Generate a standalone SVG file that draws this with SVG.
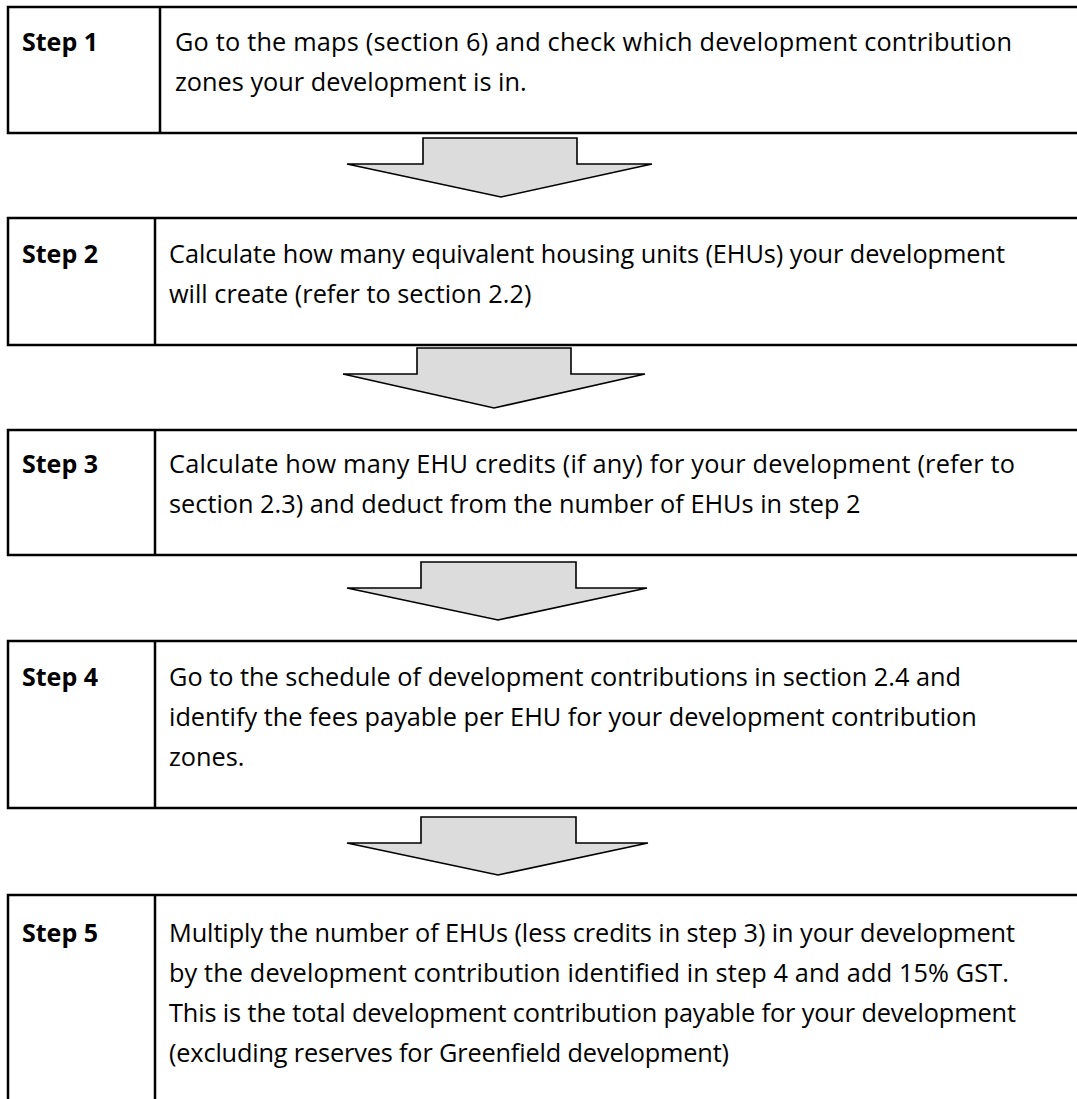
<svg xmlns="http://www.w3.org/2000/svg" width="1077" height="1099" viewBox="0 0 1077 1099">
<style>
.box{fill:#ffffff;stroke:#000000;stroke-width:2.5}
.div{stroke:#000000;stroke-width:2.5}
.lbl{font-family:"Open Sans","Noto Sans","Liberation Sans",sans-serif;font-size:25px;font-weight:bold;fill:#000000}
.txt{font-family:"Open Sans","Noto Sans","Liberation Sans",sans-serif;font-size:25.3px;fill:#000000}
.arr{fill:#dcdcdc;stroke:#000000;stroke-width:1.6;stroke-linejoin:miter}
</style>
<rect x="0" y="0" width="1077" height="1099" fill="#ffffff"/>
<g id="step1">
<rect class="box" x="8" y="7" width="1080" height="126"/>
<line class="div" x1="160" y1="7" x2="160" y2="133"/>
<text class="lbl" x="22" y="51">Step 1</text>
<text class="txt" x="175" y="51" textLength="837">Go to the maps (section 6) and check which development contribution</text>
<text class="txt" x="175" y="91">zones your development is in.</text>
</g>
<g id="step2">
<rect class="box" x="8" y="218" width="1080" height="127"/>
<line class="div" x1="155" y1="218" x2="155" y2="345"/>
<text class="lbl" x="22" y="263">Step 2</text>
<text class="txt" x="169" y="263" textLength="836">Calculate how many equivalent housing units (EHUs) your development</text>
<text class="txt" x="169" y="303">will create (refer to section 2.2)</text>
</g>
<g id="step3">
<rect class="box" x="8" y="430" width="1080" height="125"/>
<line class="div" x1="155" y1="430" x2="155" y2="555"/>
<text class="lbl" x="22" y="473">Step 3</text>
<text class="txt" x="169" y="473" textLength="846">Calculate how many EHU credits (if any) for your development (refer to</text>
<text class="txt" x="169" y="513">section 2.3) and deduct from the number of EHUs in step 2</text>
</g>
<g id="step4">
<rect class="box" x="8" y="641" width="1080" height="167"/>
<line class="div" x1="155" y1="641" x2="155" y2="808"/>
<text class="lbl" x="22" y="686">Step 4</text>
<text class="txt" x="169" y="686">Go to the schedule of development contributions in section 2.4 and</text>
<text class="txt" x="169" y="726">identify the fees payable per EHU for your development contribution</text>
<text class="txt" x="169" y="766">zones.</text>
</g>
<g id="step5">
<rect class="box" x="8" y="895" width="1080" height="215"/>
<line class="div" x1="155" y1="895" x2="155" y2="1110"/>
<text class="lbl" x="22" y="942">Step 5</text>
<text class="txt" x="169" y="942" textLength="846">Multiply the number of EHUs (less credits in step 3) in your development</text>
<text class="txt" x="169" y="982" textLength="840">by the development contribution identified in step 4 and add 15% GST.</text>
<text class="txt" x="169" y="1022" textLength="847">This is the total development contribution payable for your development</text>
<text class="txt" x="169" y="1062" textLength="560">(excluding reserves for Greenfield development)</text>
</g>
<g id="connectors">
<polygon class="arr" points="423,138 577,138 577,164 652,164 501,197 347,164 423,164"/>
<polygon class="arr" points="417,348 571,348 571,374 645,374 494,408 343,374 417,374"/>
<polygon class="arr" points="421,562 576,562 576,588 647,588 498,620 347,588 421,588"/>
<polygon class="arr" points="421,817 576,817 576,843 648,843 498,875 347,843 421,843"/>
</g>
</svg>
